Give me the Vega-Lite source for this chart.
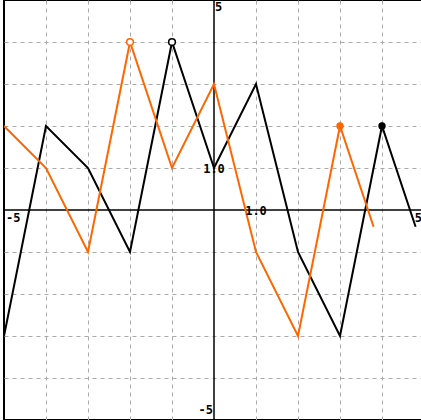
{
  "$schema": "https://vega.github.io/schema/vega-lite/v6.json",
  "width": 420,
  "height": 420,
  "autosize": {"type": "none"},
  "padding": {"left": 4, "top": 0, "right": 0, "bottom": 0},
  "background": "white",
  "config": {"view": {"stroke": "black", "strokeWidth": 2}},
  "datasets": {
    "lines": [
      {"series": "f(x)", "x": -5, "y": -3},
      {"series": "f(x)", "x": -4, "y": 2},
      {"series": "f(x)", "x": -3, "y": 1},
      {"series": "f(x)", "x": -2, "y": -1},
      {"series": "f(x)", "x": -1, "y": 4},
      {"series": "f(x)", "x": 0, "y": 1},
      {"series": "f(x)", "x": 1, "y": 3},
      {"series": "f(x)", "x": 2, "y": -1},
      {"series": "f(x)", "x": 3, "y": -3},
      {"series": "f(x)", "x": 4, "y": 2},
      {"series": "f(x)", "x": 4.8, "y": -0.4},
      {"series": "f(x+1)", "x": -5, "y": 2},
      {"series": "f(x+1)", "x": -4, "y": 1},
      {"series": "f(x+1)", "x": -3, "y": -1},
      {"series": "f(x+1)", "x": -2, "y": 4},
      {"series": "f(x+1)", "x": -1, "y": 1},
      {"series": "f(x+1)", "x": 0, "y": 3},
      {"series": "f(x+1)", "x": 1, "y": -1},
      {"series": "f(x+1)", "x": 2, "y": -3},
      {"series": "f(x+1)", "x": 3, "y": 2},
      {"series": "f(x+1)", "x": 3.8, "y": -0.4}
    ],
    "points": [
      {"series": "f(x)", "x": -1, "y": 4, "kind": "open"},
      {"series": "f(x)", "x": 4, "y": 2, "kind": "closed"},
      {"series": "f(x+1)", "x": -2, "y": 4, "kind": "open"},
      {"series": "f(x+1)", "x": 3, "y": 2, "kind": "closed"}
    ],
    "axes": [
      {"x1": -5, "x2": 5, "y1": 0, "y2": 0},
      {"x1": 0, "x2": 0, "y1": -5, "y2": 5}
    ]
  },
  "layer": [
    {
      "data": {"name": "axes"},
      "mark": {"type": "rule", "color": "black", "strokeWidth": 1.5},
      "encoding": {
        "x": {"field": "x1", "type": "quantitative", "scale": {"domain": [-5, 5], "nice": false, "zero": false},
          "axis": {"values": [-4, -3, -2, -1, 1, 2, 3, 4], "grid": true, "gridDash": [4, 4], "gridColor": "#aaaaaa", "gridWidth": 1, "gridOpacity": 1, "labels": false, "ticks": false, "domain": false, "title": null}},
        "x2": {"field": "x2"},
        "y": {"field": "y1", "type": "quantitative", "scale": {"domain": [-5, 5], "nice": false, "zero": false},
          "axis": {"values": [-4, -3, -2, -1, 1, 2, 3, 4], "grid": true, "gridDash": [4, 4], "gridColor": "#aaaaaa", "gridWidth": 1, "gridOpacity": 1, "labels": false, "ticks": false, "domain": false, "title": null}},
        "y2": {"field": "y2"}
      }
    },
    {
      "data": {"name": "lines"},
      "mark": {"type": "line", "strokeWidth": 2, "clip": true},
      "encoding": {
        "x": {"field": "x", "type": "quantitative"},
        "y": {"field": "y", "type": "quantitative"},
        "detail": {"field": "series"},
        "color": {"field": "series", "type": "nominal", "scale": {"domain": ["f(x)", "f(x+1)"], "range": ["black", "#ff6600"]}, "legend": null}
      }
    },
    {
      "data": {"name": "points"},
      "transform": [{"filter": "datum.kind == 'open'"}],
      "mark": {"type": "point", "shape": "circle", "filled": true, "fill": "white", "strokeWidth": 1.5, "size": 45, "opacity": 1},
      "encoding": {
        "x": {"field": "x", "type": "quantitative"},
        "y": {"field": "y", "type": "quantitative"},
        "stroke": {"field": "series", "type": "nominal", "scale": {"domain": ["f(x)", "f(x+1)"], "range": ["black", "#ff6600"]}, "legend": null}
      }
    },
    {
      "data": {"name": "points"},
      "transform": [{"filter": "datum.kind == 'closed'"}],
      "mark": {"type": "point", "shape": "circle", "filled": true, "size": 55, "opacity": 1},
      "encoding": {
        "x": {"field": "x", "type": "quantitative"},
        "y": {"field": "y", "type": "quantitative"},
        "color": {"field": "series", "type": "nominal", "scale": {"domain": ["f(x)", "f(x+1)"], "range": ["black", "#ff6600"]}, "legend": null}
      }
    },
    {
      "data": {"values": [{"x": -5, "y": 0, "t": "-5"}]},
      "mark": {"type": "text", "align": "left", "baseline": "top", "dx": 2, "dy": 3, "font": "DejaVu Sans Mono", "fontWeight": "bold", "fontSize": 12, "color": "black"},
      "encoding": {"x": {"field": "x", "type": "quantitative"}, "y": {"field": "y", "type": "quantitative"}, "text": {"field": "t"}}
    },
    {
      "data": {"values": [{"x": 5, "y": 0, "t": "5"}]},
      "mark": {"type": "text", "align": "right", "baseline": "top", "dx": -2, "dy": 3, "font": "DejaVu Sans Mono", "fontWeight": "bold", "fontSize": 12, "color": "black"},
      "encoding": {"x": {"field": "x", "type": "quantitative"}, "y": {"field": "y", "type": "quantitative"}, "text": {"field": "t"}}
    },
    {
      "data": {"values": [{"x": 0, "y": 5, "t": "5"}]},
      "mark": {"type": "text", "align": "left", "baseline": "top", "dx": 1, "dy": 2, "font": "DejaVu Sans Mono", "fontWeight": "bold", "fontSize": 12, "color": "black"},
      "encoding": {"x": {"field": "x", "type": "quantitative"}, "y": {"field": "y", "type": "quantitative"}, "text": {"field": "t"}}
    },
    {
      "data": {"values": [{"x": 0, "y": -5, "t": "-5"}]},
      "mark": {"type": "text", "align": "right", "baseline": "bottom", "dx": -1, "dy": -3, "font": "DejaVu Sans Mono", "fontWeight": "bold", "fontSize": 12, "color": "black"},
      "encoding": {"x": {"field": "x", "type": "quantitative"}, "y": {"field": "y", "type": "quantitative"}, "text": {"field": "t"}}
    },
    {
      "data": {"values": [{"x": 0, "y": 1, "t": "1.0"}, {"x": 1, "y": 0, "t": "1.0"}]},
      "mark": {"type": "text", "align": "center", "baseline": "middle", "dy": 1, "font": "DejaVu Sans Mono", "fontWeight": "bold", "fontSize": 12, "color": "black"},
      "encoding": {"x": {"field": "x", "type": "quantitative"}, "y": {"field": "y", "type": "quantitative"}, "text": {"field": "t"}}
    }
  ]
}
